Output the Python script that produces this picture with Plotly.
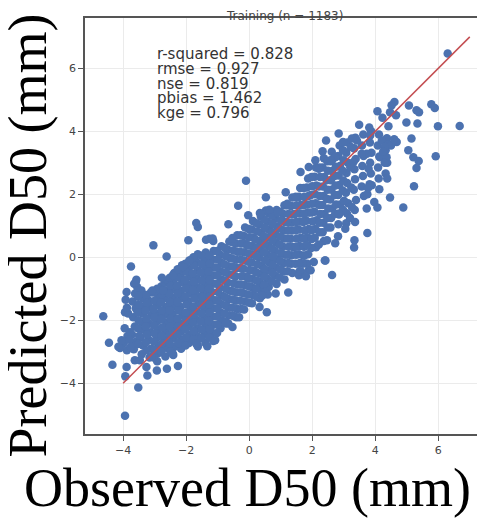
import plotly.graph_objects as go

# ---- dense core of the cloud (observed / predicted D50), column by column ----
core_obs = [
    -3.95, -3.86, -3.98, -3.88,
    -3.62, -3.70, -3.60, -3.68, -3.63, -3.72, -3.60, -3.66,
    -3.42, -3.36, -3.44, -3.38, -3.40, -3.35, -3.45, -3.37, -3.41,
    -3.12, -3.18, -3.14, -3.10, -3.17, -3.13, -3.19, -3.11, -3.16,
    -2.92, -2.88, -2.93, -2.87, -2.91, -2.89, -2.94, -2.86, -2.90, -2.92,
    -2.66, -2.62, -2.68, -2.63, -2.67, -2.61, -2.65, -2.69, -2.64, -2.66,
    -2.38, -2.42, -2.37, -2.41, -2.39, -2.43, -2.36, -2.40, -2.42, -2.38, -2.41,
    -2.13, -2.17, -2.12, -2.16, -2.14, -2.18, -2.11, -2.15, -2.17, -2.13, -2.16,
    -1.88, -1.92, -1.87, -1.91, -1.89, -1.93, -1.86, -1.90, -1.92, -1.88, -1.91,
    -1.63, -1.67, -1.62, -1.66, -1.64, -1.68, -1.61, -1.65, -1.67, -1.63, -1.66, -1.64,
    -1.38, -1.42, -1.37, -1.41, -1.39, -1.43, -1.36, -1.40, -1.42, -1.38, -1.41, -1.39,
    -1.13, -1.17, -1.12, -1.16, -1.14, -1.18, -1.11, -1.15, -1.17, -1.13, -1.16, -1.14,
    -0.88, -0.92, -0.87, -0.91, -0.89, -0.93, -0.86, -0.90, -0.92, -0.88, -0.91,
    -0.63, -0.67, -0.62, -0.66, -0.64, -0.68, -0.61, -0.65, -0.67, -0.63, -0.66,
    -0.38, -0.42, -0.37, -0.41, -0.39, -0.43, -0.36, -0.40, -0.42, -0.38, -0.41,
    -0.13, -0.17, -0.12, -0.16, -0.14, -0.18, -0.11, -0.15, -0.17, -0.13, -0.16,
    0.12, 0.08, 0.13, 0.09, 0.11, 0.07, 0.14, 0.10, 0.08, 0.12, 0.09,
    0.37, 0.33, 0.38, 0.34, 0.36, 0.32, 0.39, 0.35, 0.33, 0.37, 0.34,
    0.62, 0.58, 0.63, 0.59, 0.61, 0.57, 0.64, 0.60, 0.58, 0.62, 0.59,
    0.87, 0.83, 0.88, 0.84, 0.86, 0.82, 0.89, 0.85, 0.83, 0.87,
    1.12, 1.08, 1.13, 1.09, 1.11, 1.07, 1.14, 1.10, 1.08, 1.12,
    1.37, 1.33, 1.38, 1.34, 1.36, 1.32, 1.39, 1.35, 1.33, 1.37,
    1.62, 1.58, 1.63, 1.59, 1.61, 1.57, 1.64, 1.60, 1.58, 1.62, 1.59,
    1.87, 1.83, 1.88, 1.84, 1.86, 1.82, 1.89, 1.85, 1.83, 1.87, 1.84,
    2.12, 2.08, 2.13, 2.09, 2.11, 2.07, 2.14, 2.10, 2.08, 2.12,
    2.37, 2.33, 2.38, 2.34, 2.36, 2.32, 2.39, 2.35, 2.33, 2.37,
    2.62, 2.58, 2.63, 2.59, 2.61, 2.57, 2.64, 2.60, 2.58,
    2.87, 2.83, 2.88, 2.84, 2.86, 2.82, 2.89, 2.85, 2.83,
    3.12, 3.08, 3.13, 3.09, 3.11, 3.07, 3.14, 3.10, 3.08,
    3.37, 3.33, 3.38, 3.34, 3.36, 3.32, 3.39, 3.35,
    3.62, 3.58, 3.63, 3.59, 3.61, 3.57, 3.64,
    3.87, 3.83, 3.88, 3.84, 3.86, 3.82,
    4.12, 4.08, 4.13, 4.09, 4.11,
    4.37, 4.33, 4.38,
]
core_pred = [
    -2.25, -2.50, -2.72, -2.95,
    -1.15, -1.40, -1.62, -1.90, -2.20, -2.45, -2.68, -2.92,
    -1.05, -1.30, -1.55, -1.78, -2.05, -2.30, -2.55, -2.80, -3.08,
    -1.12, -1.38, -1.60, -1.85, -2.10, -2.38, -2.62, -2.90, -3.18,
    -1.00, -1.25, -1.52, -1.78, -2.02, -2.28, -2.55, -2.80, -3.05, -3.30,
    -0.80, -1.05, -1.30, -1.57, -1.82, -2.08, -2.35, -2.60, -2.87, -3.15,
    -0.50, -0.76, -1.02, -1.28, -1.55, -1.80, -2.05, -2.32, -2.58, -2.85, -3.10,
    -0.25, -0.52, -0.78, -1.05, -1.30, -1.57, -1.83, -2.10, -2.36, -2.62, -2.90,
    -0.10, -0.36, -0.62, -0.88, -1.15, -1.40, -1.67, -1.93, -2.20, -2.45, -2.72,
    0.10, -0.15, -0.42, -0.68, -0.95, -1.20, -1.46, -1.72, -1.98, -2.25, -2.50, -2.78,
    0.15, -0.10, -0.36, -0.62, -0.88, -1.13, -1.40, -1.65, -1.92, -2.18, -2.45, -2.72,
    0.20, -0.06, -0.32, -0.58, -0.84, -1.10, -1.36, -1.62, -1.88, -2.14, -2.40, -2.66,
    0.35, 0.08, -0.18, -0.44, -0.70, -0.96, -1.22, -1.48, -1.74, -2.00, -2.25,
    0.50, 0.24, -0.02, -0.28, -0.54, -0.80, -1.06, -1.32, -1.58, -1.84, -2.10,
    0.70, 0.44, 0.18, -0.08, -0.34, -0.60, -0.86, -1.12, -1.38, -1.64, -1.90,
    0.95, 0.68, 0.42, 0.16, -0.10, -0.36, -0.62, -0.88, -1.14, -1.40, -1.66,
    1.15, 0.88, 0.62, 0.36, 0.10, -0.16, -0.42, -0.68, -0.94, -1.20, -1.46,
    1.30, 1.04, 0.78, 0.52, 0.26, 0.00, -0.26, -0.52, -0.78, -1.04, -1.30,
    1.40, 1.14, 0.88, 0.62, 0.36, 0.10, -0.16, -0.42, -0.68, -0.94, -1.18,
    1.50, 1.24, 0.98, 0.72, 0.46, 0.20, -0.06, -0.32, -0.58, -0.85,
    1.65, 1.38, 1.12, 0.86, 0.60, 0.34, 0.08, -0.18, -0.44, -0.70,
    1.90, 1.63, 1.37, 1.11, 0.85, 0.59, 0.33, 0.07, -0.20, -0.50,
    2.20, 1.92, 1.66, 1.40, 1.14, 0.88, 0.62, 0.36, 0.10, -0.18, -0.45,
    2.50, 2.22, 1.95, 1.68, 1.42, 1.16, 0.90, 0.64, 0.38, 0.10, -0.20,
    2.85, 2.56, 2.28, 2.00, 1.72, 1.45, 1.18, 0.90, 0.62, 0.32,
    3.15, 2.85, 2.55, 2.25, 1.95, 1.66, 1.38, 1.10, 0.80, 0.52,
    3.35, 3.05, 2.74, 2.45, 2.15, 1.84, 1.55, 1.25, 0.95,
    3.55, 3.22, 2.90, 2.60, 2.30, 1.98, 1.68, 1.36, 1.05,
    3.65, 3.32, 3.00, 2.68, 2.36, 2.05, 1.72, 1.40, 1.08,
    3.80, 3.46, 3.12, 2.80, 2.48, 2.15, 1.82, 1.50,
    3.90, 3.55, 3.22, 2.90, 2.58, 2.25, 1.95,
    4.00, 3.65, 3.32, 3.00, 2.66, 2.32,
    3.90, 3.55, 3.20, 2.85, 2.50,
    3.78, 3.40, 3.00,
]

# ---- in-between columns that fill the densest part of the cloud ----
inner_obs = [
    -3.78, -3.80, -3.76,
    -3.52, -3.50, -3.54, -3.51, -3.53, -3.49, -3.52,
    -3.27, -3.25, -3.29, -3.26, -3.28, -3.24, -3.27, -3.26,
    -3.02, -3.00, -3.04, -3.01, -3.03, -2.99, -3.02, -3.01, -3.03,
    -2.78, -2.76, -2.80, -2.77, -2.79, -2.75, -2.78, -2.77, -2.79,
    -2.52, -2.50, -2.54, -2.51, -2.53, -2.49, -2.52, -2.51, -2.53, -2.50,
    -2.27, -2.25, -2.29, -2.26, -2.28, -2.24, -2.27, -2.26, -2.28, -2.25,
    -2.02, -2.00, -2.04, -2.01, -2.03, -1.99, -2.02, -2.01, -2.03, -2.00, -2.02,
    -1.77, -1.75, -1.79, -1.76, -1.78, -1.74, -1.77, -1.76, -1.78, -1.75, -1.77,
    -1.52, -1.50, -1.54, -1.51, -1.53, -1.49, -1.52, -1.51, -1.53, -1.50, -1.52,
    -1.27, -1.25, -1.29, -1.26, -1.28, -1.24, -1.27, -1.26, -1.28, -1.25, -1.27,
    -1.02, -1.00, -1.04, -1.01, -1.03, -0.99, -1.02, -1.01, -1.03, -1.00, -1.02,
    -0.77, -0.75, -0.79, -0.76, -0.78, -0.74, -0.77, -0.76, -0.78, -0.75,
    -0.52, -0.50, -0.54, -0.51, -0.53, -0.49, -0.52, -0.51, -0.53, -0.50,
    -0.27, -0.25, -0.29, -0.26, -0.28, -0.24, -0.27, -0.26, -0.28, -0.25,
    -0.02, 0.00, -0.04, -0.01, -0.03, 0.01, -0.02, -0.01, -0.03, 0.00,
    0.23, 0.25, 0.21, 0.24, 0.22, 0.26, 0.23, 0.24, 0.22, 0.25,
    0.48, 0.50, 0.46, 0.49, 0.47, 0.51, 0.48, 0.49, 0.47, 0.50,
    0.73, 0.75, 0.71, 0.74, 0.72, 0.76, 0.73, 0.74, 0.72,
    0.98, 1.00, 0.96, 0.99, 0.97, 1.01, 0.98, 0.99, 0.97,
    1.23, 1.25, 1.21, 1.24, 1.22, 1.26, 1.23, 1.24, 1.22,
    1.48, 1.50, 1.46, 1.49, 1.47, 1.51, 1.48, 1.49, 1.47,
    1.73, 1.75, 1.71, 1.74, 1.72, 1.76, 1.73, 1.74, 1.72,
    1.98, 2.00, 1.96, 1.99, 1.97, 2.01, 1.98, 1.99, 1.97,
    2.23, 2.25, 2.21, 2.24, 2.22, 2.26, 2.23, 2.24,
    2.48, 2.50, 2.46, 2.49, 2.47, 2.51, 2.48, 2.49,
    2.73, 2.75, 2.71, 2.74, 2.72, 2.76, 2.73,
    2.98, 3.00, 2.96, 2.99, 2.97, 3.01, 2.98,
    3.23, 3.21, 3.24, 3.26,
]
inner_pred = [
    -2.38, -2.62, -2.85,
    -1.25, -1.50, -1.75, -2.00, -2.25, -2.50, -2.75,
    -1.20, -1.45, -1.70, -1.95, -2.20, -2.45, -2.70, -2.95,
    -1.12, -1.38, -1.64, -1.90, -2.16, -2.42, -2.68, -2.94, -3.18,
    -0.92, -1.18, -1.44, -1.70, -1.96, -2.22, -2.48, -2.74, -3.00,
    -0.65, -0.90, -1.16, -1.42, -1.68, -1.94, -2.20, -2.46, -2.72, -2.98,
    -0.38, -0.64, -0.90, -1.16, -1.42, -1.68, -1.94, -2.20, -2.46, -2.72,
    -0.20, -0.46, -0.72, -0.98, -1.24, -1.50, -1.76, -2.02, -2.28, -2.54, -2.80,
    0.00, -0.26, -0.52, -0.78, -1.04, -1.30, -1.56, -1.82, -2.08, -2.34, -2.60,
    0.05, -0.22, -0.48, -0.74, -1.00, -1.26, -1.52, -1.78, -2.04, -2.30, -2.56,
    0.06, -0.20, -0.46, -0.72, -0.98, -1.24, -1.50, -1.76, -2.02, -2.28, -2.54,
    0.20, -0.06, -0.32, -0.58, -0.84, -1.10, -1.36, -1.62, -1.88, -2.14, -2.40,
    0.30, 0.04, -0.22, -0.48, -0.74, -1.00, -1.26, -1.52, -1.78, -2.04,
    0.48, 0.22, -0.04, -0.30, -0.56, -0.82, -1.08, -1.34, -1.60, -1.86,
    0.70, 0.44, 0.18, -0.08, -0.34, -0.60, -0.86, -1.12, -1.38, -1.64,
    0.90, 0.64, 0.38, 0.12, -0.14, -0.40, -0.66, -0.92, -1.18, -1.44,
    1.08, 0.82, 0.56, 0.30, 0.04, -0.22, -0.48, -0.74, -1.00, -1.26,
    1.20, 0.94, 0.68, 0.42, 0.16, -0.10, -0.36, -0.62, -0.88, -1.10,
    1.32, 1.06, 0.80, 0.54, 0.28, 0.02, -0.24, -0.50, -0.76,
    1.45, 1.18, 0.92, 0.66, 0.40, 0.14, -0.12, -0.38, -0.64,
    1.65, 1.38, 1.12, 0.86, 0.60, 0.34, 0.08, -0.18, -0.44,
    1.92, 1.65, 1.38, 1.12, 0.86, 0.60, 0.34, 0.08, -0.20,
    2.20, 1.92, 1.65, 1.38, 1.12, 0.86, 0.60, 0.34, 0.06,
    2.55, 2.26, 1.98, 1.70, 1.42, 1.14, 0.86, 0.58, 0.30,
    2.85, 2.55, 2.25, 1.95, 1.66, 1.38, 1.10, 0.80,
    3.05, 2.75, 2.45, 2.15, 1.85, 1.55, 1.25, 0.95,
    3.20, 2.88, 2.58, 2.28, 1.98, 1.68, 1.38,
    3.40, 3.08, 2.76, 2.44, 2.12, 1.80, 1.50,
    3.50, 2.86, 2.22, 1.60,
]

# ---- scattered points around the core ----
fringe_obs = [
    -4.63, -4.45, -4.34, -3.94, -3.52, -3.75, -2.62, -2.26,
    -2.61, -2.93, -3.23, -3.93, -3.89, -4.10, -3.94, -3.58,
    -2.77, -1.33, -1.63, -3.04, -1.93, -1.63, -1.68, -0.66,
    -1.26, -1.14, -0.53, -0.03, 0.53, 0.53, 0.34, -0.10,
    -0.35, -1.08, 0.56, 0.33, 1.16, 1.63, 1.21, 1.24,
    0.42, 2.42, 1.58, 1.89, -1.37, -1.16, 0.37, 0.64,
    0.90, -3.63, -3.47, -3.26, -3.10, -3.65, -3.52, -3.84,
    -4.15, -4.05, -3.07, -2.84, -2.73, -2.42, -2.10, -1.90,
    6.30, 6.68, 5.99, 5.92, 5.78, 5.89, 5.31, 5.39,
    5.07, 5.34, 4.99, 4.61, 4.52, 4.47, 4.66, 4.07,
    4.23, 4.42, 3.49, 3.81, 5.15, 5.05, 5.21, 5.38,
    5.31, 5.23, 2.84, 2.44, 2.33, 3.26, 3.42, 2.98,
    3.84, 4.21, 4.68, 4.42, 4.15, 4.36, 3.79, 4.33,
    3.73, 2.63, 2.73, 3.31, 3.57, 2.21, 3.89, 4.89,
    4.47, 4.13, 3.97, 4.07, 3.73, 3.75, 3.34, 3.33,
    2.82, 2.73, 2.47, 2.21, 2.40, 2.63, 1.95, 2.05,
    1.84, 3.36, 3.05, 3.75, 4.50, 4.60, 4.30, 4.25,
    4.30, 4.38, 3.77, 1.70, 1.75, 1.65, 1.80, 3.20,
    2.10, 2.58, 1.89, -3.55, -3.92, -3.88, -0.53, -0.74,
    -0.32, 0.84, 1.58, -2.42, -1.68, -3.89, -3.60, 2.84,
]
fringe_pred = [
    -1.87, -2.71, -3.41, -5.03, -4.13, -0.29, 0.03, -3.45,
    -3.54, -3.59, -3.75, -3.78, -3.48, -2.88, -1.74, -0.71,
    -0.65, -2.82, -2.83, 0.38, 0.54, 0.96, 1.09, 1.05,
    0.59, 0.52, 0.61, 1.34, 1.91, 1.49, 1.41, 2.43,
    1.64, -2.63, -1.74, -1.58, 2.07, 2.71, 1.70, -1.12,
    -1.21, -0.10, -0.57, -0.41, 0.56, 0.60, 1.38, 1.51,
    1.43, -3.27, -3.27, -3.48, -3.16, -0.84, -1.21, -1.78,
    -2.84, -2.63, -1.05, -1.00, -1.05, -0.57, -0.31, -0.10,
    6.47, 4.17, 4.16, 3.21, 4.86, 4.74, 4.67, 4.61,
    4.82, 4.25, 4.28, 4.93, 4.83, 4.61, 4.51, 4.64,
    4.43, 4.16, 4.21, 4.12, 3.77, 3.40, 3.18, 3.06,
    2.84, 2.26, 3.93, 3.71, 3.37, 3.77, 3.71, 3.66,
    3.87, 3.71, 3.66, 3.59, 3.18, 3.18, 2.81, 2.66,
    3.29, 3.08, 3.18, 3.03, 3.29, 2.81, 2.29, 1.58,
    1.90, 2.16, 1.76, 1.58, 1.55, 0.77, 0.54, 0.31,
    0.67, 0.45, 0.54, 0.41, -0.10, -0.56, -0.41, -0.15,
    0.38, 1.12, 0.91, 2.00, 3.55, 3.75, 3.50, 3.35,
    3.00, 2.50, 2.20, -0.20, 0.05, -0.45, -0.60, 1.25,
    3.08, 3.08, 2.87, -0.95, -1.35, -1.60, -2.21, -2.10,
    -1.90, -1.15, -0.20, -3.06, -2.74, -1.10, -0.80, 1.39,
]

assert len(core_obs) == len(core_pred), (len(core_obs), len(core_pred))
assert len(inner_obs) == len(inner_pred), (len(inner_obs), len(inner_pred))
assert len(fringe_obs) == len(fringe_pred), (len(fringe_obs), len(fringe_pred))
observed = core_obs + inner_obs + fringe_obs
predicted = core_pred + inner_pred + fringe_pred

# 1:1 reference line
line_x = [-4, 7]
line_y = [-4, 7]

tick_vals = [-4, -2, 0, 2, 4, 6]
title_text = "Training (n = 1183)"
stats_lines = ["r-squared = 0.828", "rmse = 0.927", "nse = 0.819", "pbias = 1.462", "kge = 0.796"]
x_title = "Observed D50 (mm)"
y_title = "Predicted D50 (mm)"

fig = go.Figure()
fig.add_trace(go.Scatter(
    x=observed, y=predicted, mode="markers",
    marker=dict(color="#4C72B0", size=8.5, line=dict(width=0)),
    showlegend=False, hoverinfo="skip",
))
fig.add_trace(go.Scatter(
    x=line_x, y=line_y, mode="lines",
    line=dict(color="#C44E52", width=1.5),
    showlegend=False, hoverinfo="skip",
))

axis_common = dict(
    tickvals=tick_vals, showgrid=True, gridcolor="#EBEBEB", gridwidth=1,
    showline=True, linecolor="#555555", linewidth=1.5, mirror=True,
    ticks="outside", ticklen=5, tickcolor="#555555", tickwidth=1,
    tickfont=dict(family="DejaVu Sans", size=11, color="#444444"),
    zeroline=False,
)

# the page body adds an 8px offset, so the figure is sized to fit the window after it
fig.update_layout(
    width=477, height=510,
    margin=dict(l=77, r=0, t=10, b=84),
    plot_bgcolor="white", paper_bgcolor="white",
    font=dict(family="DejaVu Sans"),
    xaxis=dict(range=[-5.21, 7.42], **axis_common),
    yaxis=dict(range=[-5.61, 7.6], **axis_common),
    showlegend=False,
)

# title squeezed into the thin strip above the frame
fig.add_annotation(text=title_text, xref="paper", yref="paper", x=0.5, y=1.024,
                   xanchor="center", yanchor="top", showarrow=False, borderpad=0,
                   font=dict(family="DejaVu Sans", size=12, color="#444444"))

# statistics block
stat_y = [0.9135, 0.877, 0.841, 0.8065, 0.7716]
for txt, yy in zip(stats_lines, stat_y):
    fig.add_annotation(text=txt, xref="paper", yref="paper", x=0.175, y=yy,
                       xanchor="left", yanchor="middle", showarrow=False,
                       font=dict(family="DejaVu Sans", size=15, color="#333333"))

# large serif axis titles
fig.add_annotation(text=x_title, xref="paper", yref="paper", x=0.4075, y=-0.13,
                   xanchor="center", yanchor="middle", showarrow=False,
                   font=dict(family="Liberation Serif", size=54, color="black"))
fig.add_annotation(text=y_title, xref="paper", yref="paper", x=-0.1425, y=0.478,
                   xanchor="center", yanchor="middle", showarrow=False, textangle=-90,
                   font=dict(family="Liberation Serif", size=54, color="black"))

fig.write_html("out.html")
